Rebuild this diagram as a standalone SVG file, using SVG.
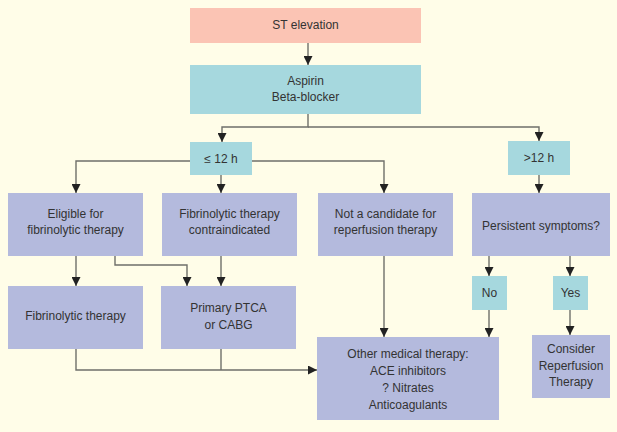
<svg xmlns="http://www.w3.org/2000/svg" width="617" height="432" viewBox="0 0 617 432">
<style>
.bg{fill:#FFFDE8}
.pink{fill:#FBC4B4}
.blue{fill:#A6D8DE}
.purple{fill:#B4BADD}
text{font-family:"Liberation Sans",Arial,sans-serif;font-size:12px;fill:#333;text-anchor:middle}
.c{fill:none;stroke:#6f6f6a;stroke-width:1.4}
</style>
<defs>
<marker id="ah" viewBox="0 0 10 10" refX="10" refY="5" markerWidth="10" markerHeight="9" markerUnits="userSpaceOnUse" orient="auto">
<path d="M0,0 L10,5 L0,10 z" fill="#222"/>
</marker>
</defs>
<rect class="bg" x="0" y="0" width="617" height="432"/>
<g id="connectors">
<path class="c" d="M308,43 V65" marker-end="url(#ah)"/>
<path class="c" d="M308,114 V127 H222 V142" marker-end="url(#ah)"/>
<path class="c" d="M308,127 H539 V141" marker-end="url(#ah)"/>
<path class="c" d="M190,161 H76 V193" marker-end="url(#ah)"/>
<path class="c" d="M221,175 V193" marker-end="url(#ah)"/>
<path class="c" d="M252,161 H384 V193" marker-end="url(#ah)"/>
<path class="c" d="M539,175 V193" marker-end="url(#ah)"/>
<path class="c" d="M76,256 V286" marker-end="url(#ah)"/>
<path class="c" d="M115,256 V265 H187 V286" marker-end="url(#ah)"/>
<path class="c" d="M221,256 V286" marker-end="url(#ah)"/>
<path class="c" d="M384,256 V337" marker-end="url(#ah)"/>
<path class="c" d="M489,256 V276" marker-end="url(#ah)"/>
<path class="c" d="M570,256 V276" marker-end="url(#ah)"/>
<path class="c" d="M489,310 V337" marker-end="url(#ah)"/>
<path class="c" d="M570,310 V335" marker-end="url(#ah)"/>
<path class="c" d="M76,349 V370 H317" marker-end="url(#ah)"/>
<path class="c" d="M221,349 V370"/>
</g>
<g id="st-elevation">
<rect class="pink" x="190" y="8" width="231" height="35"/>
<text x="305.5" y="29">ST elevation</text>
</g>
<g id="aspirin">
<rect class="blue" x="190" y="65" width="231" height="49"/>
<text x="305.5" y="85">Aspirin</text>
<text x="305.5" y="101">Beta-blocker</text>
</g>
<g id="le12h">
<rect class="blue" x="190" y="142" width="62" height="33"/>
<text x="221" y="163">≤ 12 h</text>
</g>
<g id="gt12h">
<rect class="blue" x="508" y="141" width="62" height="34"/>
<text x="539" y="162">&gt;12 h</text>
</g>
<g id="eligible">
<rect class="purple" x="8" y="193" width="135" height="63"/>
<text x="75.5" y="218">Eligible for</text>
<text x="75.5" y="234">fibrinolytic therapy</text>
</g>
<g id="contraindicated">
<rect class="purple" x="162" y="193" width="135" height="63"/>
<text x="229.5" y="218">Fibrinolytic therapy</text>
<text x="229.5" y="234">contraindicated</text>
</g>
<g id="not-candidate">
<rect class="purple" x="318" y="193" width="135" height="63"/>
<text x="385.5" y="218">Not a candidate for</text>
<text x="385.5" y="234">reperfusion therapy</text>
</g>
<g id="persistent">
<rect class="purple" x="472" y="193" width="138" height="63"/>
<text x="541" y="230">Persistent symptoms?</text>
</g>
<g id="fibrinolytic">
<rect class="purple" x="8" y="286" width="135" height="63"/>
<text x="75.5" y="319.5">Fibrinolytic therapy</text>
</g>
<g id="primary-ptca">
<rect class="purple" x="161" y="286" width="135" height="63"/>
<text x="228.5" y="312">Primary PTCA</text>
<text x="228.5" y="329">or CABG</text>
</g>
<g id="no">
<rect class="blue" x="472" y="276" width="35" height="34"/>
<text x="489.5" y="297">No</text>
</g>
<g id="yes">
<rect class="blue" x="553" y="276" width="35" height="34"/>
<text x="570.5" y="297">Yes</text>
</g>
<g id="other-medical">
<rect class="purple" x="317" y="337" width="182" height="83"/>
<text x="408" y="358">Other medical therapy:</text>
<text x="408" y="374.5">ACE inhibitors</text>
<text x="408" y="391.5">? Nitrates</text>
<text x="408" y="408.5">Anticoagulants</text>
</g>
<g id="consider">
<rect class="purple" x="532" y="335" width="78" height="63"/>
<text x="571" y="353">Consider</text>
<text x="571" y="369.5">Reperfusion</text>
<text x="571" y="386">Therapy</text>
</g>
</svg>
